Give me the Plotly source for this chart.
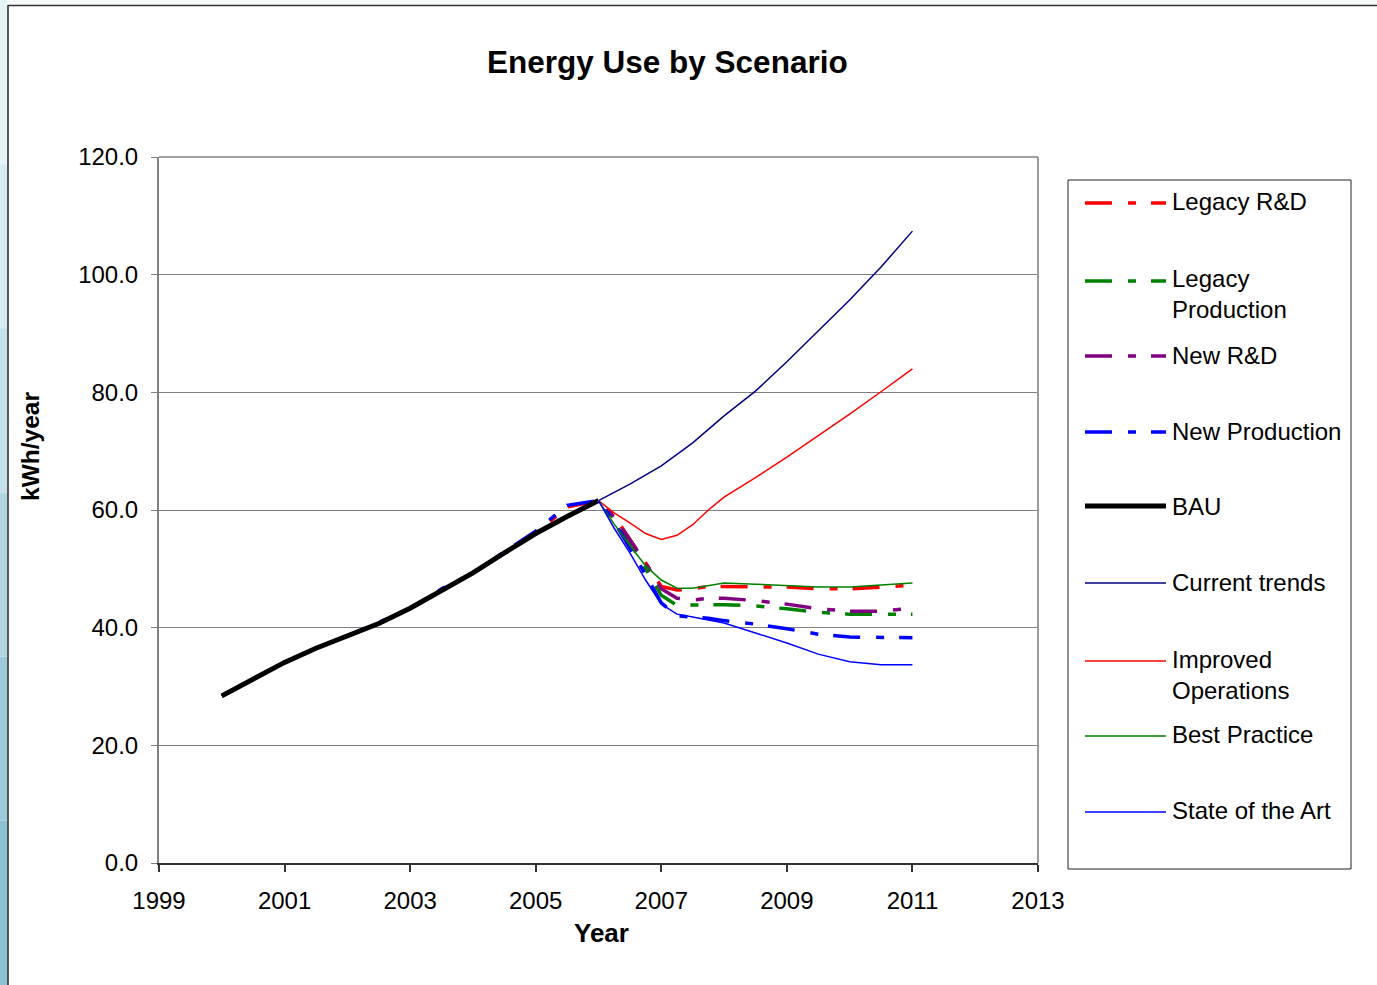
import plotly.graph_objects as go

# ---------------- data ----------------
years_hist = [2000, 2000.5, 2001, 2001.5, 2002, 2002.5, 2003, 2003.5, 2004, 2004.5, 2005, 2005.5, 2006]
bau = [28.4, 31.3, 34.1, 36.5, 38.6, 40.7, 43.3, 46.4, 49.3, 52.7, 56.0, 58.9, 61.6]

years_q = [2000, 2000.5, 2001, 2001.5, 2002, 2002.5, 2003, 2003.5, 2004, 2004.5, 2005, 2005.5,
           2006, 2006.25, 2006.5, 2006.75, 2007, 2007.25, 2007.5, 2007.75, 2008,
           2008.5, 2009, 2009.5, 2010, 2010.5, 2011]

legacy_rd = [28.4, 31.3, 34.1, 36.5, 38.6, 40.7, 43.3, 46.4, 49.3, 52.7, 56.0, 60.5,
             61.6, 59.0, 55.0, 51.0, 47.0, 46.4, 46.6, 47.0, 47.0,
             47.0, 46.9, 46.6, 46.6, 46.9, 47.2]
legacy_prod = [28.4, 31.3, 34.1, 36.5, 38.6, 40.7, 43.3, 46.4, 49.3, 52.7, 56.0, 58.9,
               61.6, 58.5, 54.5, 50.0, 45.5, 43.8, 43.9, 43.9, 43.9,
               43.7, 43.2, 42.6, 42.3, 42.3, 42.3]
new_rd = [28.4, 31.3, 34.1, 36.5, 38.6, 40.7, 43.3, 46.4, 49.3, 52.7, 56.0, 58.9,
          61.6, 58.8, 55.0, 51.0, 46.6, 45.0, 44.7, 45.0, 45.0,
          44.6, 44.0, 43.2, 42.8, 42.8, 43.3]
new_prod = [28.4, 31.3, 34.1, 36.5, 38.6, 40.9, 43.3, 46.6, 49.3, 52.9, 56.4, 60.8,
            61.6, 58.0, 53.5, 49.0, 44.2, 42.0, 41.8, 41.6, 41.2,
            40.6, 39.8, 38.9, 38.4, 38.3, 38.3]

years_fut = [2006, 2006.5, 2007, 2007.5, 2008, 2008.5, 2009, 2009.5, 2010, 2010.5, 2011]
current_trends = [61.6, 64.4, 67.5, 71.4, 76.0, 80.2, 85.2, 90.4, 95.7, 101.3, 107.4]

years_fq = [2006, 2006.25, 2006.5, 2006.75, 2007, 2007.25, 2007.5, 2007.75, 2008,
            2008.5, 2009, 2009.5, 2010, 2010.5, 2011]
improved_ops = [61.6, 59.5, 57.8, 56.0, 55.0, 55.7, 57.5, 60.0, 62.2,
                65.5, 69.0, 72.6, 76.3, 80.1, 84.0]
best_practice = [61.6, 57.6, 54.0, 50.5, 48.1, 46.7, 46.7, 47.2, 47.6,
                 47.4, 47.2, 46.9, 46.9, 47.2, 47.6]
state_of_art = [61.6, 56.9, 52.7, 48.1, 44.0, 42.3, 41.8, 41.3, 40.8,
                39.1, 37.4, 35.5, 34.2, 33.7, 33.7]

x_ticks = [1999, 2001, 2003, 2005, 2007, 2009, 2011, 2013]
y_ticks = [0, 20, 40, 60, 80, 100, 120]

# ---------------- styles ----------------
DASH = "27px,16px,8px,15px"
series = [
    ("Legacy R&D", years_q, legacy_rd, "#FF0000", 3.5, DASH),
    ("Legacy<br>Production", years_q, legacy_prod, "#008000", 3.5, DASH),
    ("New R&D", years_q, new_rd, "#800080", 3.5, DASH),
    ("New Production", years_q, new_prod, "#0000FF", 3.5, DASH),
    ("BAU", years_hist, bau, "#000000", 5, "solid"),
    ("Current trends", years_fut, current_trends, "#000080", 1.5, "solid"),
    ("Improved<br>Operations", years_fq, improved_ops, "#FF0000", 1.5, "solid"),
    ("Best Practice", years_fq, best_practice, "#008000", 1.5, "solid"),
    ("State of the Art", years_fq, state_of_art, "#0000FF", 1.5, "solid"),
]

FONT = "Liberation Sans, Arial, sans-serif"

fig = go.Figure()
for name, xs, ys, col, w, dash in series:
    fig.add_trace(go.Scatter(x=xs, y=ys, mode="lines", name=name.replace("<br>", " "),
                             line=dict(color=col, width=w, dash=dash),
                             showlegend=False, hoverinfo="x+y+name"))

# pixel -> paper helpers (plot area: x 159..1038, y 157..863)
L, R, T, B = 159, 1038, 157, 863
W, H = 1377, 985
def px(xp):
    return (xp - L) / (R - L)
def py(yp):
    return (B - yp) / (B - T)

shapes = []
annotations = []

# left background strip and outer frame
bands = ["#e6f3f7", "#d6ebf2", "#c4e1ea", "#b0d6e2", "#9ccad9", "#8dc1d2"]
n = len(bands)
for i, c in enumerate(bands):
    y0 = i * H / n
    y1 = (i + 1) * H / n
    shapes.append(dict(type="rect", xref="paper", yref="paper", x0=px(0), x1=px(7.5),
                       y0=py(y1), y1=py(y0), fillcolor=c, line=dict(width=0), layer="below"))
shapes.append(dict(type="rect", xref="paper", yref="paper", x0=px(7.5), x1=px(W),
                   y0=py(0), y1=py(5), fillcolor="#f6fbfc", line=dict(width=0), layer="below"))
shapes.append(dict(type="line", xref="paper", yref="paper", x0=px(8), x1=px(8),
                   y0=py(5), y1=py(H), line=dict(color="#222222", width=1.5)))
shapes.append(dict(type="line", xref="paper", yref="paper", x0=px(8), x1=px(W),
                   y0=py(5.5), y1=py(5.5), line=dict(color="#333333", width=1.5)))

# legend box
shapes.append(dict(type="rect", xref="paper", yref="paper", x0=px(1068), x1=px(1351),
                   y0=py(869), y1=py(180), line=dict(color="#222222", width=1),
                   fillcolor="rgba(0,0,0,0)"))
leg_sym_y = [203, 281, 356, 432, 506, 583, 661, 736, 812]
leg_txt_y = [201, 293.5, 355, 431, 506, 582, 674.5, 734, 810]
for (name, xs, ys, col, w, dash), sy, ty in zip(series, leg_sym_y, leg_txt_y):
    shapes.append(dict(type="line", xref="paper", yref="paper", x0=px(1085), x1=px(1166),
                       y0=py(sy), y1=py(sy), line=dict(color=col, width=w, dash=dash)))
    annotations.append(dict(xref="paper", yref="paper", x=px(1170), y=py(ty), text=name,
                            showarrow=False, xanchor="left", yanchor="middle", align="left",
                            font=dict(family=FONT, size=24, color="#000000")))

# title and axis titles
annotations.append(dict(xref="paper", yref="paper", x=px(667), y=py(62),
                        text="<b>Energy Use by Scenario</b>", showarrow=False,
                        xanchor="center", yanchor="middle",
                        font=dict(family=FONT, size=31.5, color="#000000")))
annotations.append(dict(xref="paper", yref="paper", x=px(601), y=py(933),
                        text="<b>Year</b>", showarrow=False,
                        xanchor="center", yanchor="middle",
                        font=dict(family=FONT, size=26, color="#000000")))
annotations.append(dict(xref="paper", yref="paper", x=px(30), y=py(447),
                        text="<b>kWh/year</b>", showarrow=False, textangle=-90,
                        xanchor="center", yanchor="middle",
                        font=dict(family=FONT, size=24.5, color="#000000")))

fig.update_layout(
    width=W, height=H,
    margin=dict(l=L, r=W - R, t=T, b=H - B, pad=0),
    paper_bgcolor="#FFFFFF", plot_bgcolor="#FFFFFF",
    showlegend=False,
    font=dict(family=FONT, size=23, color="#000000"),
    shapes=shapes, annotations=annotations,
    xaxis=dict(range=[1999, 2013], tickvals=x_ticks, ticktext=[str(v) for v in x_ticks],
               showgrid=False, zeroline=False, showline=True, linecolor="#333333", linewidth=1.5,
               mirror=False, ticks="outside", ticklen=7, tickcolor="#333333", tickwidth=1.5,
               ticklabelstandoff=8,
               tickfont=dict(family=FONT, size=24, color="#000000")),
    yaxis=dict(range=[0, 120], tickvals=y_ticks, ticktext=[f"{v:.1f}" for v in y_ticks],
               showgrid=True, gridcolor="#808080", gridwidth=1,
               zeroline=False, showline=True, linecolor="#808080", linewidth=2,
               mirror=False, ticks="outside", ticklen=6, tickcolor="#808080", tickwidth=1,
               ticklabelstandoff=8,
               tickfont=dict(family=FONT, size=24, color="#000000")),
)
# right & top plot-area borders
fig.add_shape(type="line", xref="paper", yref="paper", x0=1, x1=1, y0=0, y1=1,
              line=dict(color="#9a9a9a", width=2))
fig.add_shape(type="line", xref="paper", yref="paper", x0=0, x1=1, y0=1, y1=1,
              line=dict(color="#808080", width=1.5))

fig.write_html("out.html", config={"displayModeBar": False},
               post_script="document.body.style.margin='0';document.body.style.overflow='hidden';")
